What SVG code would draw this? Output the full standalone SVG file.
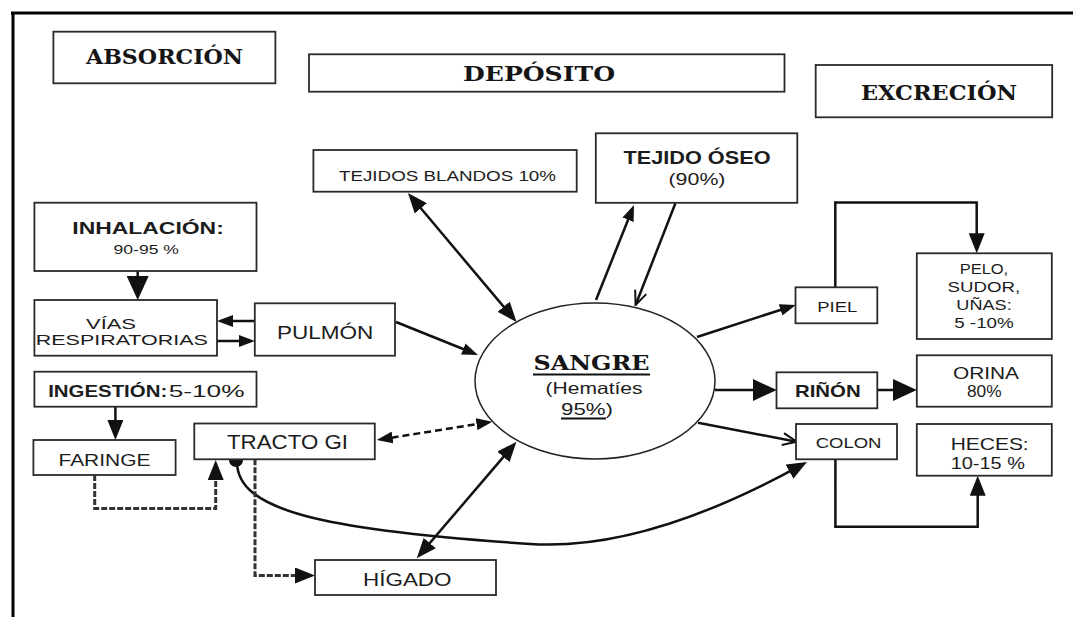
<svg xmlns="http://www.w3.org/2000/svg" width="1073" height="617" viewBox="0 0 1073 617">
<style>
.box{fill:#fff;stroke:#2a2a2a;stroke-width:1.8}
.t{font-family:"Liberation Sans",Arial,sans-serif;fill:#1c1c1c}
.b{font-weight:bold}
.ser{font-family:"DejaVu Serif","Liberation Serif",serif;font-weight:bold;fill:#151515}
.ln{fill:none;stroke:#111;stroke-width:2.5}
.dash{fill:none;stroke:#333;stroke-width:3;stroke-dasharray:6 2}
</style>
<defs>
<marker id="ah" markerUnits="userSpaceOnUse" viewBox="0 0 16 12" markerWidth="16" markerHeight="12" refX="12" refY="6" orient="auto-start-reverse"><path d="M0,0 L16,6 L0,12 z" fill="#111"/></marker>
<marker id="ahM" markerUnits="userSpaceOnUse" viewBox="0 0 20 16" markerWidth="20" markerHeight="16" refX="15" refY="8" orient="auto-start-reverse"><path d="M0,0 L20,8 L0,16 z" fill="#111"/></marker>
<marker id="ahB" markerUnits="userSpaceOnUse" viewBox="0 0 24 22" markerWidth="24" markerHeight="22" refX="18" refY="11" orient="auto"><path d="M0,0 L24,11 L0,22 z" fill="#111"/></marker>
<marker id="ahO" markerUnits="userSpaceOnUse" viewBox="0 0 16 14" markerWidth="16" markerHeight="14" refX="15" refY="7" orient="auto"><path d="M1,1 L15,7 L1,13" fill="none" stroke="#111" stroke-width="2"/></marker>
</defs>
<rect width="1073" height="617" fill="#fff"/>
<g id="frame" stroke="#000" stroke-width="3" fill="none">
<path d="M11,13 H1073"/>
<path d="M13,12 V617"/>
</g>

<g id="connectors">
<line class="ln" x1="137.7" y1="271" x2="137.7" y2="294" stroke-width="6" marker-end="url(#ahB)"/>
<line class="ln" x1="254.8" y1="321" x2="221" y2="321" marker-end="url(#ah)"/>
<line class="ln" x1="217" y1="341" x2="250.8" y2="341" marker-end="url(#ah)"/>
<line class="ln" x1="396" y1="322" x2="474.3" y2="353.5" marker-end="url(#ah)"/>
<line class="ln" x1="411.2" y1="196.8" x2="513.3" y2="318.2" stroke-width="3.5" marker-start="url(#ahM)" marker-end="url(#ahM)"/>
<line class="ln" x1="596" y1="300" x2="632.5" y2="208.7" marker-end="url(#ah)"/>
<line class="ln" x1="675.4" y1="203.3" x2="635.6" y2="305" stroke-width="2" marker-end="url(#ahO)"/>
<line class="ln" x1="697" y1="337" x2="792" y2="306.2" marker-end="url(#ah)"/>
<path class="ln" d="M835.3,287.3 V202.5 H976.7 V248.3" marker-end="url(#ahM)"/>
<line class="ln" x1="715" y1="390" x2="770.8" y2="390" stroke-width="6" marker-end="url(#ahB)"/>
<line class="ln" x1="877.3" y1="390" x2="910.8" y2="390" stroke-width="6" marker-end="url(#ahB)"/>
<line class="ln" x1="698" y1="422.7" x2="796.6" y2="441.7" marker-end="url(#ahO)"/>
<path class="ln" d="M835.4,459.3 V526.7 H977.7 V480.7" marker-end="url(#ahM)"/>
<path class="ln" d="M237,462 C237,510 320,530 530,544 C620,550 720,510 802.6,464.4" stroke-width="2.2" marker-end="url(#ahM)"/>
<line class="ln" x1="115.4" y1="406.7" x2="115.4" y2="435" marker-end="url(#ahM)"/>
<path class="dash" d="M94.7,475 V508.5 H215.7 V465" marker-end="url(#ahM)"/>
<path class="dash" d="M255,459.3 V575.5 H310" marker-end="url(#ahM)"/>
<line class="ln" x1="380.7" y1="439.4" x2="488.4" y2="422.3" stroke-width="2" stroke-dasharray="7 4" marker-start="url(#ah)" marker-end="url(#ah)"/>
<line class="ln" x1="420" y1="554.5" x2="513.2" y2="445.5" stroke-width="3.5" marker-start="url(#ahM)" marker-end="url(#ahM)"/>
<circle cx="236" cy="460" r="7" fill="#111"/>
</g>

<g id="absorcion">
<rect class="box" x="53.4" y="31.7" width="222" height="51.6"/>
<text class="ser" x="86" y="64" font-size="20" textLength="157" lengthAdjust="spacingAndGlyphs">ABSORCIÓN</text>
</g>
<g id="deposito">
<rect class="box" x="309" y="54.3" width="475.5" height="37.4"/>
<text class="ser" x="463" y="81" font-size="20" textLength="152" lengthAdjust="spacingAndGlyphs">DEPÓSITO</text>
</g>
<g id="excrecion">
<rect class="box" x="815.7" y="65" width="236.5" height="52.3"/>
<text class="ser" x="861" y="100" font-size="20" textLength="156" lengthAdjust="spacingAndGlyphs">EXCRECIÓN</text>
</g>
<g id="tejidos-blandos">
<rect class="box" x="313.4" y="150" width="263.3" height="41.7"/>
<text class="t" x="339" y="181" font-size="15" textLength="217" lengthAdjust="spacingAndGlyphs">TEJIDOS BLANDOS 10%</text>
</g>
<g id="tejido-oseo">
<rect class="box" x="595.8" y="133.3" width="201.5" height="69.5"/>
<text class="t b" x="623.5" y="164" font-size="18" textLength="147" lengthAdjust="spacingAndGlyphs">TEJIDO ÓSEO</text>
<text class="t" x="668.5" y="185" font-size="17" textLength="57" lengthAdjust="spacingAndGlyphs">(90%)</text>
</g>
<g id="inhalacion">
<rect class="box" x="34.4" y="202.7" width="222.1" height="68.3"/>
<text class="t b" x="72.3" y="234" font-size="17" textLength="151.5" lengthAdjust="spacingAndGlyphs">INHALACIÓN:</text>
<text class="t" x="113.6" y="254" font-size="12.5" textLength="65.4" lengthAdjust="spacingAndGlyphs">90-95 %</text>
</g>
<g id="vias">
<rect class="box" x="34.4" y="300" width="182.6" height="55.7"/>
<text class="t" x="86" y="328.5" font-size="15.5" textLength="50" lengthAdjust="spacingAndGlyphs">VÍAS</text>
<text class="t" x="35.8" y="345" font-size="15.5" textLength="172" lengthAdjust="spacingAndGlyphs">RESPIRATORIAS</text>
</g>
<g id="pulmon">
<rect class="box" x="254.8" y="303.3" width="140.2" height="52.4"/>
<text class="t" x="277" y="339" font-size="17.5" textLength="96.4" lengthAdjust="spacingAndGlyphs">PULMÓN</text>
</g>
<g id="ingestion">
<rect class="box" x="34.4" y="371.7" width="222.1" height="35"/>
<text class="t b" x="48.2" y="396.5" font-size="17" textLength="119" lengthAdjust="spacingAndGlyphs">INGESTIÓN:</text>
<text class="t" x="168.7" y="396.5" font-size="17" textLength="75.8" lengthAdjust="spacingAndGlyphs">5-10%</text>
</g>
<g id="faringe">
<rect class="box" x="33.4" y="440" width="142.2" height="35"/>
<text class="t" x="58.5" y="466" font-size="16" textLength="92" lengthAdjust="spacingAndGlyphs">FARINGE</text>
</g>
<g id="tracto-gi">
<rect class="box" x="194.3" y="423.5" width="180.5" height="35.8"/>
<text class="t" x="227" y="449" font-size="19.5" textLength="121" lengthAdjust="spacingAndGlyphs">TRACTO GI</text>
</g>
<g id="higado">
<rect class="box" x="315" y="560" width="181" height="35"/>
<text class="t" x="363" y="586" font-size="18" textLength="88.5" lengthAdjust="spacingAndGlyphs">HÍGADO</text>
</g>
<g id="sangre">
<ellipse cx="595" cy="381" rx="120" ry="78" fill="#fff" stroke="#222" stroke-width="1.5"/>
<text class="ser" x="533.5" y="370" font-size="21" textLength="116" lengthAdjust="spacingAndGlyphs">SANGRE</text>
<line x1="533" y1="374.5" x2="650" y2="374.5" stroke="#111" stroke-width="2"/>
<text class="t" x="545.6" y="393.5" font-size="16.5" fill="#333" textLength="97" lengthAdjust="spacingAndGlyphs">(Hematíes</text>
<text class="t" x="561" y="415" font-size="16.5" fill="#333" textLength="52" lengthAdjust="spacingAndGlyphs">95%)</text>
<line x1="561" y1="418.5" x2="606" y2="418.5" stroke="#111" stroke-width="2"/>
</g>
<g id="piel">
<rect class="box" x="795.5" y="287.3" width="81.8" height="36"/>
<text class="t" x="817.3" y="311.5" font-size="15" textLength="40" lengthAdjust="spacingAndGlyphs">PIEL</text>
</g>
<g id="pelo">
<rect class="box" x="916.8" y="253.3" width="135" height="85.7"/>
<text class="t" x="959.7" y="274" font-size="15" textLength="48.5" lengthAdjust="spacingAndGlyphs">PELO,</text>
<text class="t" x="947.6" y="292" font-size="15" textLength="72.7" lengthAdjust="spacingAndGlyphs">SUDOR,</text>
<text class="t" x="956.3" y="310" font-size="15" textLength="55.4" lengthAdjust="spacingAndGlyphs">UÑAS:</text>
<text class="t" x="954.2" y="328" font-size="15" textLength="59.6" lengthAdjust="spacingAndGlyphs">5 -10%</text>
</g>
<g id="rinon">
<rect class="box" x="776.5" y="372.3" width="100.8" height="36"/>
<text class="t b" x="794.9" y="397" font-size="17" textLength="65.8" lengthAdjust="spacingAndGlyphs">RIÑÓN</text>
</g>
<g id="orina">
<rect class="box" x="916.8" y="355.3" width="135" height="51.4"/>
<text class="t" x="953" y="378.5" font-size="17" textLength="66" lengthAdjust="spacingAndGlyphs">ORINA</text>
<text class="t" x="967" y="397" font-size="17" textLength="34.6" lengthAdjust="spacingAndGlyphs">80%</text>
</g>
<g id="colon">
<rect class="box" x="796" y="424" width="101" height="35.3"/>
<text class="t" x="815.7" y="448.3" font-size="14.5" textLength="65.8" lengthAdjust="spacingAndGlyphs">COLON</text>
</g>
<g id="heces">
<rect class="box" x="916.8" y="424" width="135" height="51.7"/>
<text class="t" x="950.7" y="450" font-size="17" textLength="78" lengthAdjust="spacingAndGlyphs">HECES:</text>
<text class="t" x="950.7" y="468.5" font-size="17" textLength="74.3" lengthAdjust="spacingAndGlyphs">10-15 %</text>
</g>
</svg>
